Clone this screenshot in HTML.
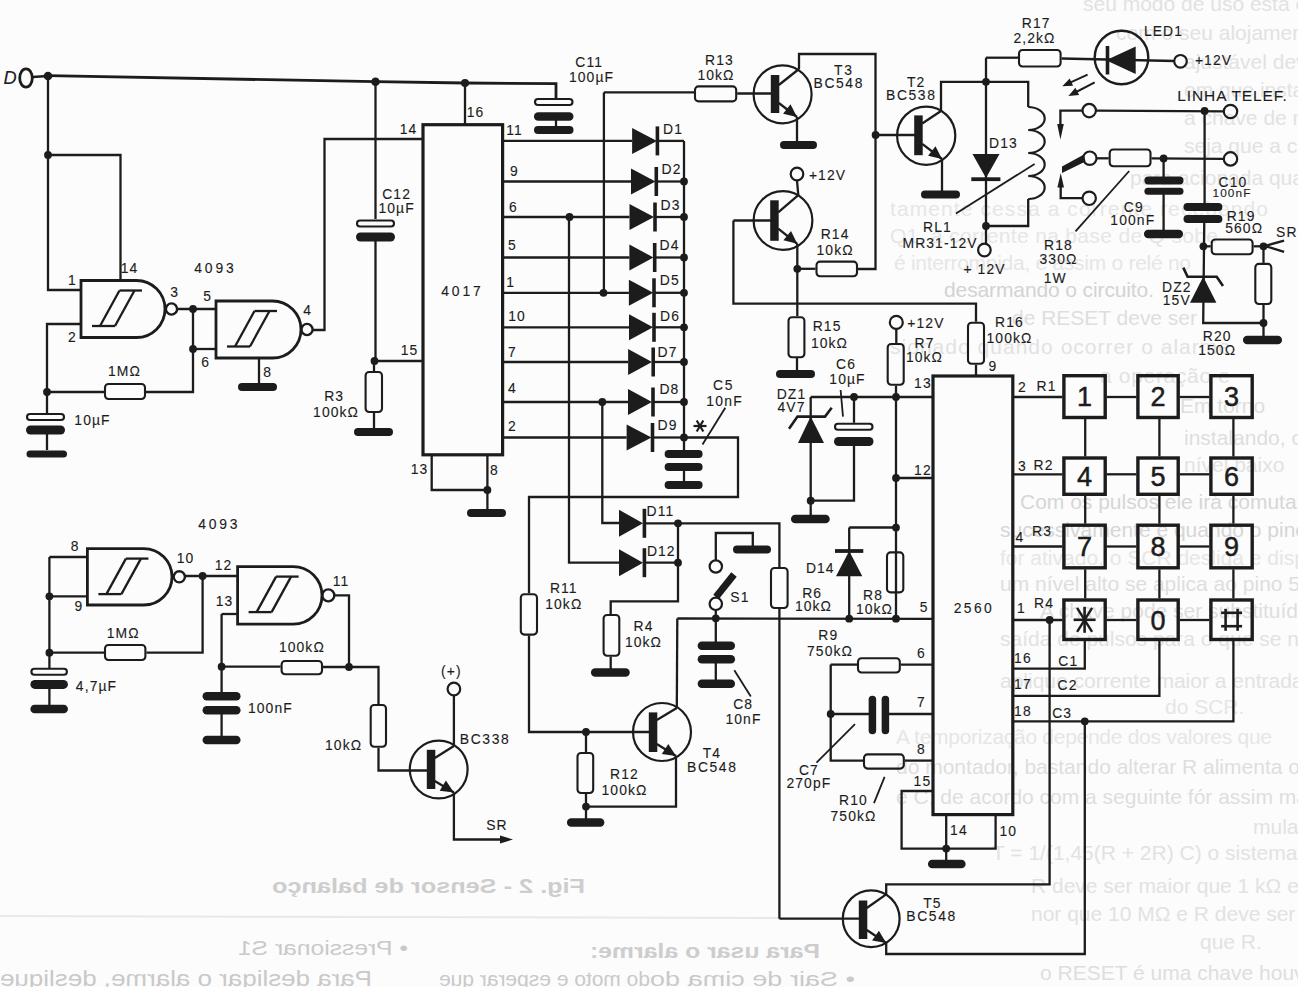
<!DOCTYPE html>
<html><head><meta charset="utf-8"><style>
html,body{margin:0;padding:0;background:#fcfcfc;width:1298px;height:987px;overflow:hidden}
svg{display:block}
path,line{fill:none;stroke:#1c1c1c;stroke-linejoin:miter}
.k{fill:#1c1c1c;stroke:none}
.o{fill:none;stroke:#1c1c1c}
text{font-family:"Liberation Sans",sans-serif;fill:#1c1c1c;stroke:#1c1c1c;stroke-width:0.12}
.d{stroke-width:0.5}
.g{fill:#c9c9c9;stroke:none}
.gm{fill:#cdcdcd;stroke:none;font-weight:bold}
</style></head><body>
<svg width="1298" height="987" viewBox="0 0 1298 987">
<text x="1083" y="11" font-size="21" class="g" style="fill:#e2e2e2">seu modo de uso está o LED</text>
<text x="1116" y="40" font-size="21" class="g" style="fill:#e2e2e2">com o seu alojamento o</text>
<text x="1184" y="69" font-size="21" class="g" style="fill:#e2e2e2">ajustável deve ser</text>
<text x="1184" y="97" font-size="21" class="g" style="fill:#e2e2e2">em que instalado</text>
<text x="1184" y="125" font-size="21" class="g" style="fill:#e2e2e2">a chave de modo</text>
<text x="1184" y="153" font-size="21" class="g" style="fill:#e2e2e2">seja que a chave</text>
<text x="1130" y="185" font-size="21" class="g" style="fill:#e2e2e2">para acionada quando a</text>
<text x="890" y="216" font-size="21" textLength="378" lengthAdjust="spacing" class="g" style="fill:#e6e6e6">tamente cessa a corrente recebendo</text>
<text x="890" y="243" font-size="21" textLength="328" lengthAdjust="spacing" class="g" style="fill:#e6e6e6">Q1, a corrente na base de Q sobe</text>
<text x="894" y="270" font-size="21" textLength="297" lengthAdjust="spacing" class="g" style="fill:#e6e6e6">é interrompida, e assim o relé no</text>
<text x="944" y="297" font-size="21" textLength="210" lengthAdjust="spacing" class="g" style="fill:#d3d3d3">desarmando o circuito.</text>
<text x="1012" y="325" font-size="21" textLength="185" lengthAdjust="spacing" class="g" style="fill:#dedede">de RESET deve ser</text>
<text x="890" y="354" font-size="21" textLength="340" lengthAdjust="spacing" class="g" style="fill:#e2e2e2">sionado quando ocorrer o alarme</text>
<text x="1100" y="383" font-size="21" textLength="130" lengthAdjust="spacing" class="g" style="fill:#e2e2e2">a operação e</text>
<text x="1180" y="413" font-size="21" class="g" style="fill:#dedede">Em torno</text>
<text x="1184" y="445" font-size="21" class="g" style="fill:#dedede">instalando, ou seja,</text>
<text x="1184" y="472" font-size="21" class="g" style="fill:#e2e2e2">nível baixo</text>
<text x="1020" y="509" font-size="21" class="g" style="fill:#d6d6d6">Com os pulsos ele irá comutando o</text>
<text x="1000" y="537" font-size="21" class="g" style="fill:#d6d6d6">sucessivamente e quando o pino 1</text>
<text x="1000" y="565" font-size="21" class="g" style="fill:#e6e6e6">for ativado, o SCR desliga e dispara</text>
<text x="1000" y="591" font-size="21" class="g" style="fill:#dedede">um nível alto se aplica ao pino 5 a</text>
<text x="1040" y="618" font-size="21" class="g" style="fill:#dedede">A chave pode ser substituída pela</text>
<text x="1000" y="646" font-size="21" class="g" style="fill:#e2e2e2">saída de pulsos para o que se na base</text>
<text x="1000" y="688" font-size="21" class="g" style="fill:#e2e2e2">aplique corrente maior a entrada do</text>
<text x="1165" y="714" font-size="21" class="g" style="fill:#e6e6e6">do SCR.</text>
<text x="896" y="744" font-size="21" textLength="376" lengthAdjust="spacing" class="g" style="fill:#e6e6e6">A temporização depende dos valores que</text>
<text x="896" y="774" font-size="21" class="g" style="fill:#dedede">do montador, bastando alterar R alimenta o relé e</text>
<text x="896" y="804" font-size="21" class="g" style="fill:#dedede">e C, de acordo com a seguinte fór assim mantém</text>
<text x="1253" y="834" font-size="21" class="g" style="fill:#e2e2e2">mula:</text>
<text x="992" y="860" font-size="21" class="g" style="fill:#e2e2e2">T = 1/(1,45(R + 2R) C) o sistema</text>
<text x="1031" y="893" font-size="21" class="g" style="fill:#e2e2e2">R deve ser maior que 1 kΩ e me</text>
<text x="1031" y="921" font-size="21" class="g" style="fill:#e2e2e2">nor que 10 MΩ e R deve ser menor</text>
<text x="1200" y="949" font-size="21" class="g" style="fill:#e2e2e2">que R.</text>
<text x="1040" y="980" font-size="21" class="g" style="fill:#dedede">o RESET é uma chave houver</text>
<text transform="translate(585,0) scale(-1,1)" x="0" y="893" font-size="20" textLength="313" lengthAdjust="spacingAndGlyphs" class="gm">Fig. 2 - Sensor de balanço</text>
<text transform="translate(820,0) scale(-1,1)" x="0" y="958" font-size="20" textLength="230" lengthAdjust="spacingAndGlyphs" class="gm">Para usar o alarme:</text>
<text transform="translate(408,0) scale(-1,1)" x="0" y="955" font-size="20" textLength="170" lengthAdjust="spacingAndGlyphs" class="g">• Pressionar S1</text>
<text transform="translate(372,0) scale(-1,1)" x="0" y="986" font-size="22" textLength="372" lengthAdjust="spacingAndGlyphs" class="g">Para desligar o alarme, desligue</text>
<text transform="translate(650,0) scale(-1,1)" x="0" y="986" font-size="20" textLength="211" lengthAdjust="spacingAndGlyphs" class="g">do moto e esperar que</text>
<text transform="translate(855,0) scale(-1,1)" x="0" y="986" font-size="20" textLength="205" lengthAdjust="spacingAndGlyphs" class="g">• Sair de cima do</text>
<path d="M0 916 L780 918" style="stroke:#e8e8e8;stroke-width:2"/>
<text x="10.2" y="83.6" font-size="18.2" text-anchor="middle" letter-spacing="0.3" class="t" font-style="italic">D</text>
<ellipse cx="26" cy="78" rx="6.3" ry="9.2" class="o" stroke-width="2.8"/>
<path d="M32.5 77 L48 76" stroke-width="2.3"/>
<path d="M48 75.7 L375.5 81.7 L465 83 L556 83.7 L556 98" stroke-width="2.8"/>
<circle cx="48" cy="76" r="4.3" class="k"/>
<circle cx="375.5" cy="81.7" r="4.3" class="k"/>
<circle cx="465" cy="83" r="4" class="k"/>
<path d="M48 76 L48 290 L81 290" stroke-width="2.3"/>
<circle cx="48" cy="155" r="3.9" class="k"/>
<path d="M48 155 L120.5 155 L120.5 281" stroke-width="2.3"/>
<path d="M81 324 L47 324 L47 413" stroke-width="2.3"/>
<path d="M47 434 L47 450" stroke-width="2.3"/>
<circle cx="47" cy="392" r="3.9" class="k"/>
<rect x="27" y="414" width="37" height="6" rx="3" class="o" stroke-width="2.1"/>
<path d="M30.5 430 L60.5 430" stroke-width="9" stroke-linecap="round"/>
<path d="M30 454 L63.5 454" stroke-width="7" stroke-linecap="round"/>
<path d="M81 280.5 L136.5 280.5 A28.5 28.5 0 0 1 136.5 337.5 L81 337.5 Z" class="o" stroke-width="2.8"/>
<circle cx="171.5" cy="309" r="5.6" class="o" stroke-width="2.4"/>
<path d="M92 326 L115 326" stroke-width="2.3"/>
<path d="M100 326 L119.5 290.5" stroke-width="2.3"/>
<path d="M115 326 L134.5 290.5" stroke-width="2.3"/>
<path d="M119.5 290.5 L142 290.5" stroke-width="2.3"/>
<path d="M216 301 L272.5 301 A28.5 28.5 0 0 1 272.5 358 L216 358 Z" class="o" stroke-width="2.8"/>
<circle cx="307" cy="329.5" r="5.6" class="o" stroke-width="2.4"/>
<path d="M227 346.5 L250 346.5" stroke-width="2.3"/>
<path d="M235 346.5 L254.5 311" stroke-width="2.3"/>
<path d="M250 346.5 L269.5 311" stroke-width="2.3"/>
<path d="M254.5 311 L277 311" stroke-width="2.3"/>
<path d="M177 309 L216 309" stroke-width="2.3"/>
<circle cx="193" cy="309" r="3.9" class="k"/>
<circle cx="193" cy="349" r="3.9" class="k"/>
<path d="M193 309 L193 392 L146 392" stroke-width="2.3"/>
<path d="M193 349 L216 349" stroke-width="2.3"/>
<path d="M47 392 L104 392" stroke-width="2.3"/>
<rect x="105" y="384" width="40" height="15" rx="3.5" class="o" stroke-width="2.1"/>
<path d="M259 358 L259 387" stroke-width="2.3"/>
<path d="M242 387 L273 387" stroke-width="8" stroke-linecap="round"/>
<path d="M313 330 L324.5 330 L324.5 139 L423 139" stroke-width="2.3"/>
<text x="72.5" y="285.1" font-size="13.9" text-anchor="middle" letter-spacing="1.1" class="t">1</text>
<text x="129.6" y="273.1" font-size="13.9" text-anchor="middle" letter-spacing="1.1" class="t">14</text>
<text x="174.6" y="297.1" font-size="13.9" text-anchor="middle" letter-spacing="1.1" class="t">3</text>
<text x="72.5" y="342.1" font-size="13.9" text-anchor="middle" letter-spacing="1.1" class="t">2</text>
<text x="207.6" y="301.1" font-size="13.9" text-anchor="middle" letter-spacing="1.1" class="t">5</text>
<text x="205.6" y="367.1" font-size="13.9" text-anchor="middle" letter-spacing="1.1" class="t">6</text>
<text x="307.6" y="315.1" font-size="13.9" text-anchor="middle" letter-spacing="1.1" class="t">4</text>
<text x="267.6" y="377.1" font-size="13.9" text-anchor="middle" letter-spacing="1.1" class="t">8</text>
<text x="124.5" y="376.1" font-size="13.9" text-anchor="middle" letter-spacing="1.1" class="t">1MΩ</text>
<text x="92.5" y="425.1" font-size="13.9" text-anchor="middle" letter-spacing="1.1" class="t">10µF</text>
<text x="215.4" y="273.1" font-size="13.9" text-anchor="middle" letter-spacing="2.8" class="t">4093</text>
<rect x="423" y="124.7" width="79.6" height="330.1" class="o" stroke-width="3.2"/>
<path d="M465 83 L465 124.7" stroke-width="2.3"/>
<path d="M375.5 81.7 L375.5 219" stroke-width="2.3"/>
<rect x="357" y="220.5" width="37" height="6" rx="3" class="o" stroke-width="2.1"/>
<path d="M360.5 237 L390.5 237" stroke-width="9" stroke-linecap="round"/>
<path d="M375.5 241 L375.5 361 L423 361" stroke-width="2.3"/>
<circle cx="374.5" cy="361" r="3.9" class="k"/>
<path d="M374 361 L374 371" stroke-width="2.3"/>
<rect x="365.6" y="372" width="16.4" height="40" rx="3.5" class="o" stroke-width="2.1"/>
<path d="M374 413 L374 432" stroke-width="2.3"/>
<path d="M358 432 L389 432" stroke-width="8" stroke-linecap="round"/>
<path d="M431.7 454.8 L431.7 490 L487.4 490" stroke-width="2.3"/>
<path d="M487.4 454.8 L487.4 513" stroke-width="2.3"/>
<circle cx="487.4" cy="490" r="3.9" class="k"/>
<path d="M471 513 L502 513" stroke-width="8" stroke-linecap="round"/>
<rect x="535" y="99" width="37.5" height="6" rx="3" class="o" stroke-width="2.1"/>
<path d="M538.2 116.6 L569.2 116.6" stroke-width="8.5" stroke-linecap="round"/>
<path d="M538 130 L569.5 130" stroke-width="8" stroke-linecap="round"/>
<path d="M556 116.6 L556 130" stroke-width="2.3"/>
<text x="589.2" y="66.5" font-size="13.9" text-anchor="middle" letter-spacing="1.1" class="t">C11</text>
<text x="591.5" y="82.1" font-size="13.9" text-anchor="middle" letter-spacing="1.1" class="t">100µF</text>
<text x="475.6" y="117.1" font-size="13.9" text-anchor="middle" letter-spacing="1.1" class="t">16</text>
<text x="408.6" y="133.6" font-size="13.9" text-anchor="middle" letter-spacing="1.1" class="t">14</text>
<text x="514.5" y="135.1" font-size="13.9" text-anchor="middle" letter-spacing="1.1" class="t">11</text>
<text x="514.5" y="176.1" font-size="13.9" text-anchor="middle" letter-spacing="1.1" class="t">9</text>
<text x="513.5" y="212.1" font-size="13.9" text-anchor="middle" letter-spacing="1.1" class="t">6</text>
<text x="512.5" y="250.1" font-size="13.9" text-anchor="middle" letter-spacing="1.1" class="t">5</text>
<text x="510.6" y="287.1" font-size="13.9" text-anchor="middle" letter-spacing="1.1" class="t">1</text>
<text x="396.6" y="199.1" font-size="13.9" text-anchor="middle" letter-spacing="1.1" class="t">C12</text>
<text x="396.6" y="213.1" font-size="13.9" text-anchor="middle" letter-spacing="1.1" class="t">10µF</text>
<text x="517" y="321.1" font-size="13.9" text-anchor="middle" letter-spacing="1.1" class="t">10</text>
<text x="512.5" y="356.5" font-size="13.9" text-anchor="middle" letter-spacing="1.1" class="t">7</text>
<text x="512.5" y="393.1" font-size="13.9" text-anchor="middle" letter-spacing="1.1" class="t">4</text>
<text x="512.5" y="430.7" font-size="13.9" text-anchor="middle" letter-spacing="1.1" class="t">2</text>
<text x="409.6" y="354.7" font-size="13.9" text-anchor="middle" letter-spacing="1.1" class="t">15</text>
<text x="334.2" y="401.1" font-size="13.9" text-anchor="middle" letter-spacing="1.1" class="t">R3</text>
<text x="336.1" y="416.8" font-size="13.9" text-anchor="middle" letter-spacing="1.1" class="t">100kΩ</text>
<text x="419.6" y="473.8" font-size="13.9" text-anchor="middle" letter-spacing="1.1" class="t">13</text>
<text x="494.4" y="475.1" font-size="13.9" text-anchor="middle" letter-spacing="1.1" class="t">8</text>
<text x="462.4" y="296.1" font-size="13.9" text-anchor="middle" letter-spacing="2.8" class="t">4017</text>
<path d="M502.6 140.9 L632.1 140.9" stroke-width="2.3"/>
<polygon points="632.1,127.9 632.1,153.9 657,140.9" class="k"/>
<path d="M657.4 126.4 L657.4 155.4" stroke-width="3.6"/>
<path d="M657.4 140.9 L684 140.9" stroke-width="2.3"/>
<path d="M502.6 181.5 L631 181.5" stroke-width="2.3"/>
<polygon points="631,168.5 631,194.5 655.5,181.5" class="k"/>
<path d="M656.3 167 L656.3 196" stroke-width="3.6"/>
<path d="M656.3 181.5 L684 181.5" stroke-width="2.3"/>
<circle cx="684" cy="181.5" r="3.9" class="k"/>
<path d="M502.6 217 L629.5 217" stroke-width="2.3"/>
<polygon points="629.5,204 629.5,230 654,217" class="k"/>
<path d="M655 202.5 L655 231.5" stroke-width="3.6"/>
<path d="M655 217 L684 217" stroke-width="2.3"/>
<circle cx="684" cy="217" r="3.9" class="k"/>
<path d="M502.6 257.5 L629.4 257.5" stroke-width="2.3"/>
<polygon points="629.4,244.5 629.4,270.5 653.5,257.5" class="k"/>
<path d="M654.7 243 L654.7 272" stroke-width="3.6"/>
<path d="M654.7 257.5 L684 257.5" stroke-width="2.3"/>
<circle cx="684" cy="257.5" r="3.9" class="k"/>
<path d="M502.6 292.8 L628.9 292.8" stroke-width="2.3"/>
<polygon points="628.9,279.8 628.9,305.8 653.2,292.8" class="k"/>
<path d="M654 278.3 L654 307.3" stroke-width="3.6"/>
<path d="M654 292.8 L684 292.8" stroke-width="2.3"/>
<circle cx="684" cy="292.8" r="3.9" class="k"/>
<path d="M502.6 327.3 L629 327.3" stroke-width="2.3"/>
<polygon points="629,314.3 629,340.3 653,327.3" class="k"/>
<path d="M654 312.8 L654 341.8" stroke-width="3.6"/>
<path d="M654 327.3 L684 327.3" stroke-width="2.3"/>
<circle cx="684" cy="327.3" r="3.9" class="k"/>
<path d="M502.6 362 L628.1 362" stroke-width="2.3"/>
<polygon points="628.1,349 628.1,375 652,362" class="k"/>
<path d="M653.2 347.5 L653.2 376.5" stroke-width="3.6"/>
<path d="M653.2 362 L684 362" stroke-width="2.3"/>
<circle cx="684" cy="362" r="3.9" class="k"/>
<path d="M502.6 402 L628 402" stroke-width="2.3"/>
<polygon points="628,389 628,415 652,402" class="k"/>
<path d="M653 387.5 L653 416.5" stroke-width="3.6"/>
<path d="M653 402 L684 402" stroke-width="2.3"/>
<circle cx="684" cy="402" r="3.9" class="k"/>
<path d="M502.6 437.5 L626.6 437.5" stroke-width="2.3"/>
<polygon points="626.6,424.5 626.6,450.5 651.5,437.5" class="k"/>
<path d="M652.5 423 L652.5 452" stroke-width="3.6"/>
<path d="M652.5 437.5 L684 437.5" stroke-width="2.3"/>
<circle cx="684" cy="437.5" r="3.9" class="k"/>
<path d="M684 140.9 L684 450" stroke-width="2.3"/>
<circle cx="569.5" cy="217" r="3.9" class="k"/>
<circle cx="603.5" cy="292.8" r="3.9" class="k"/>
<circle cx="602.3" cy="402" r="3.9" class="k"/>
<path d="M603.9 92.4 L603.9 292.8" stroke-width="2.3"/>
<path d="M569 217 L569 562.7 L619 562.7" stroke-width="2.3"/>
<path d="M602.3 402 L602.3 523 L619 523" stroke-width="2.3"/>
<text x="673" y="134.1" font-size="13.9" text-anchor="middle" letter-spacing="1.1" class="t">D1</text>
<text x="671.5" y="174.1" font-size="13.9" text-anchor="middle" letter-spacing="1.1" class="t">D2</text>
<text x="670.5" y="210.1" font-size="13.9" text-anchor="middle" letter-spacing="1.1" class="t">D3</text>
<text x="669.5" y="250.1" font-size="13.9" text-anchor="middle" letter-spacing="1.1" class="t">D4</text>
<text x="669.8" y="285.1" font-size="13.9" text-anchor="middle" letter-spacing="1.1" class="t">D5</text>
<text x="670" y="320.6" font-size="13.9" text-anchor="middle" letter-spacing="1.1" class="t">D6</text>
<text x="667.5" y="357.1" font-size="13.9" text-anchor="middle" letter-spacing="1.1" class="t">D7</text>
<text x="669.4" y="394.4" font-size="13.9" text-anchor="middle" letter-spacing="1.1" class="t">D8</text>
<text x="667.5" y="430.1" font-size="13.9" text-anchor="middle" letter-spacing="1.1" class="t">D9</text>
<path d="M668.6 454 L698.6 454" stroke-width="8" stroke-linecap="round"/>
<path d="M668.6 467 L698.6 467" stroke-width="8" stroke-linecap="round"/>
<path d="M684 467 L684 485" stroke-width="2.3"/>
<path d="M668.6 485 L698.6 485" stroke-width="8" stroke-linecap="round"/>
<path d="M684 437.5 L738 437.5 L738 497 L529 497 L529 593.3" stroke-width="2.3"/>
<path d="M725.3 407.8 L702.5 444.5" stroke-width="1.8"/>
<path d="M693.5 426 L706.5 426" stroke-width="2.2"/>
<path d="M696.7 420.5 L703.3 431.5" stroke-width="2.2"/>
<path d="M703.3 420.5 L696.7 431.5" stroke-width="2.2"/>
<text x="723.7" y="390.1" font-size="13.9" text-anchor="middle" letter-spacing="1.8" class="t">C5</text>
<text x="724.6" y="406.1" font-size="13.9" text-anchor="middle" letter-spacing="1.3" class="t">10nF</text>
<path d="M603.9 92.4 L694 92.4" stroke-width="2.3"/>
<rect x="695" y="86.4" width="41.2" height="15" rx="3.5" class="o" stroke-width="2.1"/>
<path d="M737.2 93.5 L771 93.5" stroke-width="2.3"/>
<circle cx="782.6" cy="94.3" r="29" class="o" stroke-width="2.2"/>
<rect x="770.8" y="75" width="8.5" height="38" class="k"/>
<path d="M778.8 85 L799 69" stroke-width="2.3"/>
<path d="M778.8 103 L797 117" stroke-width="2.3"/>
<polygon points="797,117 783.1,113.7 790.5,104.2" class="k"/>
<path d="M799 69 L799 54 L875.5 54 L875.5 269 L858 269" stroke-width="2.3"/>
<path d="M797 117 L797 145" stroke-width="2.3"/>
<path d="M784 145 L813 145" stroke-width="8" stroke-linecap="round"/>
<circle cx="783" cy="220.5" r="29.4" class="o" stroke-width="2.2"/>
<rect x="770.2" y="200.3" width="8.5" height="40.5" class="k"/>
<path d="M778.2 212.4 L798.3 195.2" stroke-width="2.3"/>
<path d="M778.2 228.6 L797.3 243.8" stroke-width="2.3"/>
<polygon points="797.3,243.8 783.4,240.2 791,230.9" class="k"/>
<path d="M733.4 220.5 L771 220.5" stroke-width="2.3"/>
<path d="M733.4 220.5 L733.4 303.6 L976 303.6 L976 321.7" stroke-width="2.3"/>
<path d="M798.3 195.2 L797 180.5" stroke-width="2.3"/>
<circle cx="797" cy="174" r="6.3" class="o" stroke-width="2.2"/>
<path d="M797.3 243.8 L797.3 316.2" stroke-width="2.3"/>
<circle cx="797.3" cy="268.8" r="3.9" class="k"/>
<path d="M797.3 268.8 L815.5 268.8" stroke-width="2.3"/>
<rect x="816.5" y="261.6" width="40.5" height="14.7" rx="3.5" class="o" stroke-width="2.1"/>
<rect x="788.5" y="317.2" width="15.9" height="40.1" rx="3.5" class="o" stroke-width="2.1"/>
<path d="M797 358 L797 374" stroke-width="2.3"/>
<path d="M780 374 L811 374" stroke-width="8" stroke-linecap="round"/>
<text x="719.5" y="65.1" font-size="13.9" text-anchor="middle" letter-spacing="1.1" class="t">R13</text>
<text x="716" y="80.1" font-size="13.9" text-anchor="middle" letter-spacing="1.1" class="t">10kΩ</text>
<text x="843.9" y="75.1" font-size="13.9" text-anchor="middle" letter-spacing="1.8" class="t">T3</text>
<text x="838.8" y="87.5" font-size="13.9" text-anchor="middle" letter-spacing="1.6" class="t">BC548</text>
<text x="827.5" y="180.1" font-size="13.9" text-anchor="middle" letter-spacing="1.1" class="t">+12V</text>
<text x="835.1" y="238.7" font-size="13.9" text-anchor="middle" letter-spacing="1.1" class="t">R14</text>
<text x="835.1" y="255.1" font-size="13.9" text-anchor="middle" letter-spacing="1.1" class="t">10kΩ</text>
<text x="827.1" y="330.6" font-size="13.9" text-anchor="middle" letter-spacing="1.1" class="t">R15</text>
<text x="829.5" y="347.8" font-size="13.9" text-anchor="middle" letter-spacing="1.1" class="t">10kΩ</text>
<circle cx="875.6" cy="135" r="3.9" class="k"/>
<path d="M875.6 135 L915 135" stroke-width="2.3"/>
<circle cx="926.2" cy="135.7" r="29.1" class="o" stroke-width="2.2"/>
<rect x="914.2" y="115.4" width="8.5" height="39.8" class="k"/>
<path d="M922.2 123.5 L941 111" stroke-width="2.3"/>
<path d="M922.2 143.8 L942 159" stroke-width="2.3"/>
<polygon points="942,159 928.1,155.7 935.5,146.2" class="k"/>
<path d="M941 111 L941 81.8 L986 81.8" stroke-width="2.3"/>
<path d="M942 159 L942 194.4" stroke-width="2.3"/>
<path d="M925 194.4 L956 194.4" stroke-width="8" stroke-linecap="round"/>
<path d="M986 57.7 L986 243.7" stroke-width="2.3"/>
<circle cx="986" cy="81.8" r="3.9" class="k"/>
<circle cx="986" cy="226" r="3.9" class="k"/>
<path d="M986 57.7 L1018 57.7" stroke-width="2.3"/>
<rect x="1019" y="50" width="41.6" height="16.5" rx="3.5" class="o" stroke-width="2.1"/>
<path d="M1061.6 58.5 L1174.5 61" stroke-width="2.3"/>
<circle cx="1121.5" cy="57.5" r="26.8" class="o" stroke-width="2.4"/>
<polygon points="1106,60.3 1135.7,46.5 1135.7,74" class="k"/>
<path d="M1107.5 46 L1107.5 74.5" stroke-width="3.6"/>
<circle cx="1180.5" cy="61.3" r="6.3" class="o" stroke-width="2.2"/>
<path d="M986 81.8 L1028.2 81.8 L1028.2 107" stroke-width="2.3"/>
<path d="M1028.2 107 a16.5 11.5 0 0 1 0 23 a16.5 11.5 0 0 1 0 23 a16.5 11.5 0 0 1 0 23 a16.5 11.5 0 0 1 0 23" stroke-width="2.2"/>
<path d="M1028.2 199 L1028.2 226 L986 226" stroke-width="2.3"/>
<polygon points="972.5,154 999.5,154 986,178" class="k"/>
<path d="M971.3 179.2 L1000.4 179.2" stroke-width="3.8"/>
<path d="M956 213.4 L1034.6 164" stroke-width="1.8"/>
<circle cx="984.4" cy="250" r="6.3" class="o" stroke-width="2.2"/>
<path d="M1087.6 74.6 L1066.3 84.3" stroke-width="2"/>
<polygon points="1062.3,86.3 1069.7,78.5 1073.1,85.7" class="k"/>
<path d="M1094.7 82.3 L1072.4 94" stroke-width="2"/>
<polygon points="1068.4,96 1075.4,87.8 1079.1,94.9" class="k"/>
<circle cx="1089.2" cy="110.6" r="6.7" class="o" stroke-width="2.2"/>
<path d="M1082.5 110.6 L1060.4 110.6 L1060.4 126" stroke-width="2.3"/>
<polygon points="1057.2,124 1063.8,124 1060.4,139.4" class="k"/>
<path d="M1095.9 110.6 L1223.8 111.3" stroke-width="2.3"/>
<circle cx="1204.6" cy="110.9" r="3.9" class="k"/>
<circle cx="1230.5" cy="111.5" r="6.7" class="o" stroke-width="2.2"/>
<circle cx="1089.8" cy="158.2" r="6.7" class="o" stroke-width="2.2"/>
<polygon points="1062,166.5 1084,154.5 1085.5,161.5 1062,173" class="k"/>
<polygon points="1060.7,173 1057.4,187.4 1064,187.4" class="k"/>
<path d="M1060.7 187 L1060.7 198.2 L1082.5 198.2" stroke-width="2.3"/>
<circle cx="1089.2" cy="198.3" r="6.7" class="o" stroke-width="2.2"/>
<path d="M1096.5 158.3 L1108.7 158.3" stroke-width="2.3"/>
<rect x="1109.7" y="149.5" width="40.8" height="16.8" rx="3.5" class="o" stroke-width="2.1"/>
<path d="M1151.5 158.3 L1223.8 158.9" stroke-width="2.3"/>
<circle cx="1163.6" cy="158.4" r="3.9" class="k"/>
<circle cx="1230.5" cy="158.9" r="6.7" class="o" stroke-width="2.2"/>
<path d="M1075.5 231.3 L1129.2 171" stroke-width="1.8"/>
<path d="M1163.6 158.3 L1163.6 177" stroke-width="2.3"/>
<path d="M1163.6 191.3 L1163.6 233.9" stroke-width="2.3"/>
<path d="M1148.4 180.6 L1179.5 180.6" stroke-width="8" stroke-linecap="round"/>
<path d="M1147.9 191.3 L1180 191.3" stroke-width="7" stroke-linecap="round"/>
<path d="M1148.2 233.9 L1178.8 233.9" stroke-width="8.5" stroke-linecap="round"/>
<path d="M1204.6 110.9 L1204.6 207" stroke-width="2.3"/>
<path d="M1187.5 207 L1218.4 207" stroke-width="8" stroke-linecap="round"/>
<path d="M1187.5 219.1 L1218.4 219.1" stroke-width="8" stroke-linecap="round"/>
<path d="M1204.3 219 L1203.2 323 L1263.5 323" stroke-width="2.3"/>
<circle cx="1203.4" cy="246.3" r="3.9" class="k"/>
<path d="M1203.2 246.3 L1210.7 246.3" stroke-width="2.3"/>
<rect x="1211.7" y="239.5" width="40.9" height="14.8" rx="3.5" class="o" stroke-width="2.1"/>
<path d="M1253.6 246.3 L1263.5 246.3" stroke-width="2.3"/>
<circle cx="1263.5" cy="246.3" r="3.9" class="k"/>
<path d="M1263.5 246.3 L1284.1 240.6" stroke-width="2.3"/>
<path d="M1266 246.3 L1284.1 251.8" stroke-width="2.3"/>
<path d="M1263.5 246.3 L1263.5 262.9" stroke-width="2.3"/>
<rect x="1255.3" y="263.9" width="16" height="40.1" rx="3.5" class="o" stroke-width="2.1"/>
<path d="M1263.5 305 L1263.5 340" stroke-width="2.3"/>
<circle cx="1263.5" cy="323" r="3.9" class="k"/>
<path d="M1247.2 340 L1277.8 340" stroke-width="8.5" stroke-linecap="round"/>
<path d="M1183.3 267.6 L1187.6 276.8 L1216.7 276.8 L1223 286" stroke-width="2.6"/>
<polygon points="1203.2,276.8 1190,302.7 1216.4,302.7" class="k"/>
<text x="916.1" y="86.9" font-size="13.9" text-anchor="middle" letter-spacing="1.1" class="t">T2</text>
<text x="911.3" y="99.5" font-size="13.9" text-anchor="middle" letter-spacing="1.6" class="t">BC538</text>
<text x="1003.5" y="147.6" font-size="13.9" text-anchor="middle" letter-spacing="1.1" class="t">D13</text>
<text x="937.5" y="232.4" font-size="13.9" text-anchor="middle" letter-spacing="1.1" class="t">RL1</text>
<text x="940.1" y="247.6" font-size="13.9" text-anchor="middle" letter-spacing="1.1" class="t">MR31-12V</text>
<text x="984.5" y="274.2" font-size="13.9" text-anchor="middle" letter-spacing="1.1" class="t">+ 12V</text>
<text x="1036.2" y="27.5" font-size="13.9" text-anchor="middle" letter-spacing="1.1" class="t">R17</text>
<text x="1034.5" y="43" font-size="13.9" text-anchor="middle" letter-spacing="1.1" class="t">2,2kΩ</text>
<text x="1163.5" y="36.1" font-size="13.9" text-anchor="middle" letter-spacing="1.1" class="t">LED1</text>
<text x="1213.5" y="65.4" font-size="13.9" text-anchor="middle" letter-spacing="1.1" class="t">+12V</text>
<text x="1058.5" y="249.8" font-size="13.9" text-anchor="middle" letter-spacing="1.1" class="t">R18</text>
<text x="1058.5" y="263.5" font-size="13.9" text-anchor="middle" letter-spacing="1.1" class="t">330Ω</text>
<text x="1055.2" y="282.5" font-size="13.9" text-anchor="middle" letter-spacing="1.1" class="t">1W</text>
<text x="1133.8" y="212.1" font-size="13.9" text-anchor="middle" letter-spacing="1.1" class="t">C9</text>
<text x="1132.8" y="225.2" font-size="13.9" text-anchor="middle" letter-spacing="1.1" class="t">100nF</text>
<text x="1233" y="186.7" font-size="13.9" text-anchor="middle" letter-spacing="1.1" class="t">C10</text>
<text x="1232" y="197.1" font-size="11.8" text-anchor="middle" letter-spacing="1.1" class="t">100nF</text>
<text x="1241.1" y="220.8" font-size="13.9" text-anchor="middle" letter-spacing="1.1" class="t">R19</text>
<text x="1244.2" y="233.3" font-size="13.9" text-anchor="middle" letter-spacing="1.1" class="t">560Ω</text>
<text x="1286.8" y="237.4" font-size="13.9" text-anchor="middle" letter-spacing="1.1" class="t">SR</text>
<text x="1176.8" y="291.9" font-size="13.9" text-anchor="middle" letter-spacing="1.1" class="t">DZ2</text>
<text x="1176.8" y="305.3" font-size="13.9" text-anchor="middle" letter-spacing="1.1" class="t">15V</text>
<text x="1217.2" y="340.8" font-size="13.9" text-anchor="middle" letter-spacing="1.1" class="t">R20</text>
<text x="1217.2" y="355.1" font-size="13.9" text-anchor="middle" letter-spacing="1.1" class="t">150Ω</text>
<text x="1232.5" y="100.6" font-size="15.5" text-anchor="middle" letter-spacing="0.9" class="t">LINHA TELEF.</text>
<rect x="933" y="376" width="79.8" height="438.6" class="o" stroke-width="3.2"/>
<path d="M976 364.7 L976 376" stroke-width="2.3"/>
<rect x="968" y="322.7" width="16" height="41" rx="3.5" class="o" stroke-width="2.1"/>
<circle cx="896.3" cy="322.4" r="6.5" class="o" stroke-width="2.2"/>
<path d="M896.3 329 L896.3 343" stroke-width="2.3"/>
<rect x="887.7" y="344" width="16" height="40.7" rx="3.5" class="o" stroke-width="2.1"/>
<path d="M896 385.7 L896 618.7" stroke-width="2.3"/>
<circle cx="896" cy="397" r="3.9" class="k"/>
<circle cx="896" cy="478" r="3.9" class="k"/>
<circle cx="896" cy="527.6" r="3.9" class="k"/>
<circle cx="896" cy="618.7" r="3.9" class="k"/>
<path d="M810.7 397 L933 397" stroke-width="2.3"/>
<circle cx="854" cy="397" r="3.9" class="k"/>
<path d="M810.7 397 L810.7 420" stroke-width="2.3"/>
<path d="M789 428.8 L797.5 416.6 L825 416.6 L831.7 407.8" stroke-width="2.6"/>
<polygon points="810.7,416.6 798,443 824,443" class="k"/>
<path d="M810.7 443 L810.7 519" stroke-width="2.3"/>
<circle cx="810.7" cy="500.7" r="3.9" class="k"/>
<path d="M795.2 519 L825.5 519" stroke-width="8.5" stroke-linecap="round"/>
<path d="M854 397 L854 422.8" stroke-width="2.3"/>
<rect x="835" y="423.8" width="37.5" height="6" rx="3" class="o" stroke-width="2.1"/>
<path d="M838.5 441.5 L869 441.5" stroke-width="9" stroke-linecap="round"/>
<path d="M854 441.5 L854 500.7 L810.7 500.7" stroke-width="2.3"/>
<path d="M840.6 390 L843 416.6" stroke-width="1.8"/>
<path d="M896 478 L933 478" stroke-width="2.3"/>
<path d="M849.2 527.5 L896 527.5" stroke-width="2.3"/>
<path d="M849.2 527.5 L849.2 618.7" stroke-width="2.3"/>
<path d="M835 551 L863.3 551" stroke-width="3.8"/>
<polygon points="849.2,551 836,576.2 862.3,576.2" class="k"/>
<circle cx="849.2" cy="618.7" r="3.9" class="k"/>
<rect x="887" y="552.4" width="16.3" height="40" rx="3.5" class="o" stroke-width="2.1"/>
<path d="M677.3 618.5 L933 618.8" stroke-width="2.3"/>
<text x="925.9" y="327.5" font-size="13.9" text-anchor="middle" letter-spacing="1.1" class="t">+12V</text>
<text x="924.5" y="348.1" font-size="13.9" text-anchor="middle" letter-spacing="1.1" class="t">R7</text>
<text x="924.5" y="362.1" font-size="13.9" text-anchor="middle" letter-spacing="1.1" class="t">10kΩ</text>
<text x="1009.5" y="326.8" font-size="13.9" text-anchor="middle" letter-spacing="1.1" class="t">R16</text>
<text x="1009.5" y="343.1" font-size="13.9" text-anchor="middle" letter-spacing="1.1" class="t">100kΩ</text>
<text x="993" y="370.6" font-size="13.9" text-anchor="middle" letter-spacing="1.1" class="t">9</text>
<text x="922.9" y="387.5" font-size="13.9" text-anchor="middle" letter-spacing="1.1" class="t">13</text>
<text x="922.9" y="474.9" font-size="13.9" text-anchor="middle" letter-spacing="1.1" class="t">12</text>
<text x="846.1" y="368.6" font-size="13.9" text-anchor="middle" letter-spacing="1.1" class="t">C6</text>
<text x="847.5" y="383.8" font-size="13.9" text-anchor="middle" letter-spacing="1.1" class="t">10µF</text>
<text x="791.5" y="398.9" font-size="13.9" text-anchor="middle" letter-spacing="1.1" class="t">DZ1</text>
<text x="791.5" y="412.1" font-size="13.9" text-anchor="middle" letter-spacing="1.1" class="t">4V7</text>
<text x="1022.4" y="392" font-size="13.9" text-anchor="middle" letter-spacing="1.1" class="t">2</text>
<text x="1046.5" y="391.1" font-size="13.9" text-anchor="middle" letter-spacing="1.1" class="t">R1</text>
<text x="1022.5" y="471.3" font-size="13.9" text-anchor="middle" letter-spacing="1.1" class="t">3</text>
<text x="1043.5" y="469.7" font-size="13.9" text-anchor="middle" letter-spacing="1.1" class="t">R2</text>
<text x="1019.8" y="541.5" font-size="13.9" text-anchor="middle" letter-spacing="1.1" class="t">4</text>
<text x="1042" y="536.4" font-size="13.9" text-anchor="middle" letter-spacing="1.1" class="t">R3</text>
<text x="820.3" y="573.1" font-size="13.9" text-anchor="middle" letter-spacing="1.1" class="t">D14</text>
<text x="812.2" y="598.1" font-size="13.9" text-anchor="middle" letter-spacing="1.1" class="t">R6</text>
<text x="813.5" y="611.1" font-size="13.9" text-anchor="middle" letter-spacing="1.1" class="t">10kΩ</text>
<text x="873" y="600.1" font-size="13.9" text-anchor="middle" letter-spacing="1.1" class="t">R8</text>
<text x="874.5" y="614.3" font-size="13.9" text-anchor="middle" letter-spacing="1.1" class="t">10kΩ</text>
<text x="924.2" y="612.3" font-size="13.9" text-anchor="middle" letter-spacing="1.1" class="t">5</text>
<text x="1021.5" y="612.9" font-size="13.9" text-anchor="middle" letter-spacing="1.1" class="t">1</text>
<text x="1044" y="607.7" font-size="13.9" text-anchor="middle" letter-spacing="1.1" class="t">R4</text>
<text x="828.3" y="640.1" font-size="13.9" text-anchor="middle" letter-spacing="1.1" class="t">R9</text>
<text x="830" y="656.3" font-size="13.9" text-anchor="middle" letter-spacing="1.1" class="t">750kΩ</text>
<text x="921.5" y="658.3" font-size="13.9" text-anchor="middle" letter-spacing="1.1" class="t">6</text>
<text x="921.5" y="707" font-size="13.9" text-anchor="middle" letter-spacing="1.1" class="t">7</text>
<text x="921.5" y="753.6" font-size="13.9" text-anchor="middle" letter-spacing="1.1" class="t">8</text>
<text x="922.4" y="786.1" font-size="13.9" text-anchor="middle" letter-spacing="1.1" class="t">15</text>
<text x="1022.9" y="663.1" font-size="13.9" text-anchor="middle" letter-spacing="1.1" class="t">16</text>
<text x="1068.3" y="665.6" font-size="13.9" text-anchor="middle" letter-spacing="1.1" class="t">C1</text>
<text x="1022.9" y="688.7" font-size="13.9" text-anchor="middle" letter-spacing="1.1" class="t">17</text>
<text x="1067.5" y="689.9" font-size="13.9" text-anchor="middle" letter-spacing="1.1" class="t">C2</text>
<text x="1022.9" y="715.9" font-size="13.9" text-anchor="middle" letter-spacing="1.1" class="t">18</text>
<text x="1062.2" y="718.3" font-size="13.9" text-anchor="middle" letter-spacing="1.1" class="t">C3</text>
<text x="958.9" y="834.7" font-size="13.9" text-anchor="middle" letter-spacing="1.1" class="t">14</text>
<text x="1008.3" y="835.9" font-size="13.9" text-anchor="middle" letter-spacing="1.1" class="t">10</text>
<text x="808.9" y="775.1" font-size="13.9" text-anchor="middle" letter-spacing="1.1" class="t">C7</text>
<text x="808.9" y="788.1" font-size="13.9" text-anchor="middle" letter-spacing="1.1" class="t">270pF</text>
<text x="853.5" y="805.1" font-size="13.9" text-anchor="middle" letter-spacing="1.1" class="t">R10</text>
<text x="853.5" y="821.3" font-size="13.9" text-anchor="middle" letter-spacing="1.1" class="t">750kΩ</text>
<text x="932.5" y="907.6" font-size="13.9" text-anchor="middle" letter-spacing="1.1" class="t">T5</text>
<text x="931.6" y="921.1" font-size="13.9" text-anchor="middle" letter-spacing="1.6" class="t">BC548</text>
<text x="973.9" y="612.9" font-size="13.9" text-anchor="middle" letter-spacing="2.3" class="t">2560</text>
<path d="M1012.8 397 L1062.4 397" stroke-width="2.3"/>
<path d="M1012.8 474.3 L1062.4 474.3" stroke-width="2.3"/>
<path d="M1012.8 546.5 L1062.4 546.5" stroke-width="2.3"/>
<path d="M1012.8 620 L1062.4 620" stroke-width="2.3"/>
<circle cx="1049.6" cy="620" r="3.9" class="k"/>
<path d="M1106.7 397 L1136.4 397" stroke-width="2.3"/>
<path d="M1085.2 419 L1085.2 456.5" stroke-width="2.3"/>
<rect x="1063.9" y="375.7" width="41.3" height="41.8" class="o" stroke-width="3.4"/>
<path d="M1179.7 397 L1209.4 397" stroke-width="2.3"/>
<path d="M1159.4 419 L1159.4 456.5" stroke-width="2.3"/>
<rect x="1137.9" y="375.7" width="40.3" height="41.8" class="o" stroke-width="3.4"/>
<path d="M1233.4 419 L1233.4 456.5" stroke-width="2.3"/>
<rect x="1210.9" y="375.7" width="41.3" height="41.8" class="o" stroke-width="3.4"/>
<path d="M1106.7 474.3 L1136.4 474.3" stroke-width="2.3"/>
<path d="M1085.2 495.8 L1085.2 523.7" stroke-width="2.3"/>
<rect x="1063.9" y="458" width="41.3" height="36.3" class="o" stroke-width="3.4"/>
<path d="M1179.7 474.3 L1209.4 474.3" stroke-width="2.3"/>
<path d="M1159.4 495.8 L1159.4 523.7" stroke-width="2.3"/>
<rect x="1137.9" y="458" width="40.3" height="36.3" class="o" stroke-width="3.4"/>
<path d="M1233.4 495.8 L1233.4 523.7" stroke-width="2.3"/>
<rect x="1210.9" y="458" width="41.3" height="36.3" class="o" stroke-width="3.4"/>
<path d="M1106.7 546.5 L1136.4 546.5" stroke-width="2.3"/>
<path d="M1085.2 569.3 L1085.2 598.5" stroke-width="2.3"/>
<rect x="1063.9" y="525.2" width="41.3" height="42.6" class="o" stroke-width="3.4"/>
<path d="M1179.7 546.5 L1209.4 546.5" stroke-width="2.3"/>
<path d="M1159.4 569.3 L1159.4 598.5" stroke-width="2.3"/>
<rect x="1137.9" y="525.2" width="40.3" height="42.6" class="o" stroke-width="3.4"/>
<path d="M1233.4 569.3 L1233.4 598.5" stroke-width="2.3"/>
<rect x="1210.9" y="525.2" width="41.3" height="42.6" class="o" stroke-width="3.4"/>
<path d="M1106.7 620 L1136.4 620" stroke-width="2.3"/>
<rect x="1063.9" y="600" width="41.3" height="39.5" class="o" stroke-width="3.4"/>
<path d="M1179.7 620 L1209.4 620" stroke-width="2.3"/>
<rect x="1137.9" y="600" width="40.3" height="39.5" class="o" stroke-width="3.4"/>
<rect x="1210.9" y="600" width="41.3" height="39.5" class="o" stroke-width="3.4"/>
<text x="1084.6" y="406.4" font-size="27" text-anchor="middle" letter-spacing="0" class="d">1</text>
<text x="1158.1" y="406.4" font-size="27" text-anchor="middle" letter-spacing="0" class="d">2</text>
<text x="1231.6" y="406.4" font-size="27" text-anchor="middle" letter-spacing="0" class="d">3</text>
<text x="1084.6" y="486" font-size="27" text-anchor="middle" letter-spacing="0" class="d">4</text>
<text x="1158.1" y="486" font-size="27" text-anchor="middle" letter-spacing="0" class="d">5</text>
<text x="1231.6" y="486" font-size="27" text-anchor="middle" letter-spacing="0" class="d">6</text>
<text x="1084.6" y="556.3" font-size="27" text-anchor="middle" letter-spacing="0" class="d">7</text>
<text x="1158.1" y="556.3" font-size="27" text-anchor="middle" letter-spacing="0" class="d">8</text>
<text x="1231.6" y="556.3" font-size="27" text-anchor="middle" letter-spacing="0" class="d">9</text>
<text x="1158.1" y="629.6" font-size="27" text-anchor="middle" letter-spacing="0" class="d">0</text>
<path d="M1084.6 606.8 L1084.6 632.8" stroke-width="2.6"/>
<path d="M1073.6 619.8 L1095.6 619.8" stroke-width="2.6"/>
<path d="M1077.1 607.8 L1092.1 631.8" stroke-width="2.4"/>
<path d="M1092.1 607.8 L1077.1 631.8" stroke-width="2.4"/>
<path d="M1225.6 608.8 L1225.6 630.8" stroke-width="2.6"/>
<path d="M1237.6 608.8 L1237.6 630.8" stroke-width="2.6"/>
<path d="M1221.1 612.8 L1242.1 612.8" stroke-width="2.6"/>
<path d="M1221.1 626.2 L1242.1 626.2" stroke-width="2.6"/>
<path d="M1049.6 620 L1049.6 884.3 L886.2 884.3 L886.2 894.4" stroke-width="2.3"/>
<circle cx="871.2" cy="918.7" r="28.4" class="o" stroke-width="2.2"/>
<rect x="858.8" y="900.5" width="8.5" height="38.5" class="k"/>
<path d="M866.8 908 L886.2 894.4" stroke-width="2.3"/>
<path d="M866.8 930 L886.2 943" stroke-width="2.3"/>
<polygon points="886.2,943 872.1,940.6 878.9,930.7" class="k"/>
<path d="M779.4 918.7 L859.5 918.7" stroke-width="2.3"/>
<path d="M886.2 943 L886.2 954 L1084.8 954 L1084.8 721.3" stroke-width="2.3"/>
<circle cx="1084.8" cy="721.3" r="3.9" class="k"/>
<path d="M830.7 664.6 L857 664.6" stroke-width="2.3"/>
<rect x="858" y="658.3" width="41.8" height="14.2" rx="3.5" class="o" stroke-width="2.1"/>
<path d="M900.8 664.6 L933 664.6" stroke-width="2.3"/>
<path d="M830.7 664.6 L830.7 760.6 L863 760.6" stroke-width="2.3"/>
<rect x="864" y="754.4" width="39.8" height="14.2" rx="3.5" class="o" stroke-width="2.1"/>
<path d="M904.8 760.6 L933 760.6" stroke-width="2.3"/>
<path d="M830.7 714 L870 714" stroke-width="2.3"/>
<path d="M888 714 L933 714" stroke-width="2.3"/>
<circle cx="830.7" cy="714" r="3.9" class="k"/>
<path d="M872.4 699.5 L872.4 730.5" stroke-width="7.5" stroke-linecap="round"/>
<path d="M885.4 699.5 L885.4 730.5" stroke-width="7.5" stroke-linecap="round"/>
<path d="M855 724.2 L816.5 762.7" stroke-width="1.8"/>
<path d="M884.6 776.9 L874 803.2" stroke-width="1.8"/>
<path d="M933 791 L901.6 791 L901.6 848.6 L995.6 848.6 L995.6 814.6" stroke-width="2.3"/>
<path d="M946.2 814.6 L946.2 864" stroke-width="2.3"/>
<circle cx="946.2" cy="848.6" r="3.9" class="k"/>
<path d="M932.2 864 L961.4 864" stroke-width="8.5" stroke-linecap="round"/>
<path d="M1012.8 668.6 L1084.8 668.6 L1084.8 641" stroke-width="2.3"/>
<path d="M1012.8 695.8 L1159.4 695.8 L1159.4 641" stroke-width="2.3"/>
<path d="M1012.8 721.3 L1233.4 721.3 L1233.4 641" stroke-width="2.3"/>
<polygon points="619,509.8 619,536.8 643,523.3" class="k"/>
<path d="M644.4 508.8 L644.4 537.8" stroke-width="3.6"/>
<polygon points="619,549.2 619,576.2 643,562.7" class="k"/>
<path d="M644.4 548.2 L644.4 577.2" stroke-width="3.6"/>
<path d="M644.4 523.3 L779.4 523.3 L779.4 567" stroke-width="2.3"/>
<path d="M779.4 609 L779.4 918.7" stroke-width="2.3"/>
<rect x="771" y="568" width="16.6" height="40" rx="3.5" class="o" stroke-width="2.1"/>
<circle cx="678" cy="523.3" r="3.9" class="k"/>
<circle cx="678" cy="562.7" r="3.9" class="k"/>
<path d="M644.4 562.7 L678 562.7" stroke-width="2.3"/>
<path d="M678 523.3 L678 601.4 L610.7 601.4 L610.7 614" stroke-width="2.3"/>
<rect x="603.6" y="615" width="15.7" height="40.7" rx="3.5" class="o" stroke-width="2.1"/>
<path d="M610.7 656.7 L610.7 672.4" stroke-width="2.3"/>
<path d="M595.2 672.4 L625.5 672.4" stroke-width="8.5" stroke-linecap="round"/>
<circle cx="715.8" cy="566.5" r="6.2" class="o" stroke-width="2.2"/>
<circle cx="715.8" cy="603.8" r="6.2" class="o" stroke-width="2.2"/>
<path d="M716 597 L734 574.5" stroke-width="7" stroke-linecap="butt"/>
<path d="M715.8 560.3 L715.8 533 L752.8 533 L752.8 549.5" stroke-width="2.3"/>
<path d="M737 549.5 L767 549.5" stroke-width="8" stroke-linecap="round"/>
<path d="M715.8 610 L715.8 642" stroke-width="2.3"/>
<path d="M715.8 659.2 L715.8 683.8" stroke-width="2.3"/>
<circle cx="715.8" cy="618.3" r="3.9" class="k"/>
<path d="M701.9 645.8 L730.8 645.8" stroke-width="8.5" stroke-linecap="round"/>
<path d="M701.9 659.2 L730.8 659.2" stroke-width="8.5" stroke-linecap="round"/>
<path d="M701.9 683.8 L730.8 683.8" stroke-width="8.5" stroke-linecap="round"/>
<path d="M734.3 670.3 L750.8 696.4" stroke-width="1.8"/>
<rect x="520.8" y="594.3" width="16.2" height="40.3" rx="3.5" class="o" stroke-width="2.1"/>
<path d="M529 635.6 L529 732 L649.5 732" stroke-width="2.3"/>
<circle cx="586" cy="732" r="3.9" class="k"/>
<path d="M586 732 L586 752" stroke-width="2.3"/>
<rect x="577.5" y="753" width="15.7" height="40" rx="3.5" class="o" stroke-width="2.1"/>
<path d="M586 794 L586 822.4" stroke-width="2.3"/>
<circle cx="586" cy="806.6" r="3.9" class="k"/>
<path d="M571.2 822.4 L600.1 822.4" stroke-width="8.5" stroke-linecap="round"/>
<circle cx="662" cy="732" r="29" class="o" stroke-width="2.2"/>
<rect x="648.8" y="712.4" width="8.5" height="39.6" class="k"/>
<path d="M656.8 720 L676.8 708" stroke-width="2.3"/>
<path d="M656.8 744 L676 756" stroke-width="2.3"/>
<polygon points="676,756 661.8,754 668.3,743.9" class="k"/>
<path d="M676.8 708 L677.3 618.5" stroke-width="2.3"/>
<path d="M676 756 L676 806.6 L586 806.6" stroke-width="2.3"/>
<text x="660.5" y="515.9" font-size="13.9" text-anchor="middle" letter-spacing="1.1" class="t">D11</text>
<text x="661.3" y="555.9" font-size="13.9" text-anchor="middle" letter-spacing="1.1" class="t">D12</text>
<text x="563.8" y="592.6" font-size="13.9" text-anchor="middle" letter-spacing="1.1" class="t">R11</text>
<text x="563.8" y="609.1" font-size="13.9" text-anchor="middle" letter-spacing="1.1" class="t">10kΩ</text>
<text x="643.5" y="630.6" font-size="13.9" text-anchor="middle" letter-spacing="1.1" class="t">R4</text>
<text x="643.5" y="647.1" font-size="13.9" text-anchor="middle" letter-spacing="1.1" class="t">10kΩ</text>
<text x="739.9" y="601.5" font-size="13.9" text-anchor="middle" letter-spacing="1.1" class="t">S1</text>
<text x="743.2" y="709.1" font-size="13.9" text-anchor="middle" letter-spacing="1.1" class="t">C8</text>
<text x="743.5" y="724.1" font-size="13.9" text-anchor="middle" letter-spacing="1.1" class="t">10nF</text>
<text x="712" y="758.1" font-size="13.9" text-anchor="middle" letter-spacing="1.1" class="t">T4</text>
<text x="712.3" y="771.7" font-size="13.9" text-anchor="middle" letter-spacing="1.6" class="t">BC548</text>
<text x="624.5" y="779.1" font-size="13.9" text-anchor="middle" letter-spacing="1.1" class="t">R12</text>
<text x="624.5" y="794.5" font-size="13.9" text-anchor="middle" letter-spacing="1.1" class="t">100kΩ</text>
<path d="M87.4 548.6 L143.8 548.6 A28.2 28.2 0 0 1 143.8 605 L87.4 605 Z" class="o" stroke-width="2.8"/>
<circle cx="179.3" cy="576.8" r="5.6" class="o" stroke-width="2.4"/>
<path d="M98.4 594.1 L121.4 594.1" stroke-width="2.3"/>
<path d="M106.4 594.1 L125.9 558.6" stroke-width="2.3"/>
<path d="M121.4 594.1 L140.9 558.6" stroke-width="2.3"/>
<path d="M125.9 558.6 L148.4 558.6" stroke-width="2.3"/>
<path d="M237.6 566.6 L293.2 566.6 A28.8 28.8 0 0 1 293.2 624.2 L237.6 624.2 Z" class="o" stroke-width="2.8"/>
<circle cx="328.3" cy="595.4" r="6" class="o" stroke-width="2.4"/>
<path d="M248.6 612.1 L271.6 612.1" stroke-width="2.3"/>
<path d="M256.6 612.1 L276.1 576.6" stroke-width="2.3"/>
<path d="M271.6 612.1 L291.1 576.6" stroke-width="2.3"/>
<path d="M276.1 576.6 L298.6 576.6" stroke-width="2.3"/>
<path d="M49.4 557 L87.4 557" stroke-width="2.3"/>
<path d="M49.4 557 L49.4 668" stroke-width="2.3"/>
<path d="M49.4 596.3 L87.4 596.3" stroke-width="2.3"/>
<circle cx="49.4" cy="596.3" r="3.9" class="k"/>
<circle cx="49.4" cy="652.7" r="3.9" class="k"/>
<path d="M49.4 652.7 L104 652.7" stroke-width="2.3"/>
<rect x="105" y="645" width="40.4" height="15" rx="3.5" class="o" stroke-width="2.1"/>
<path d="M146.4 652.7 L202.6 652.7 L202.6 576" stroke-width="2.3"/>
<circle cx="202.6" cy="576" r="3.9" class="k"/>
<path d="M185 576 L237.6 576" stroke-width="2.3"/>
<rect x="31.4" y="668.7" width="35.5" height="6" rx="3" class="o" stroke-width="2.1"/>
<path d="M34.9 684.4 L63.4 684.4" stroke-width="9" stroke-linecap="round"/>
<path d="M49.4 684 L49.4 709" stroke-width="2.3"/>
<path d="M34.6 709 L63.7 709" stroke-width="8.5" stroke-linecap="round"/>
<path d="M221.6 614 L237.6 614" stroke-width="2.3"/>
<path d="M221.6 614 L221.6 692" stroke-width="2.3"/>
<path d="M221.6 710 L221.6 740" stroke-width="2.3"/>
<circle cx="221.6" cy="666.7" r="3.9" class="k"/>
<path d="M221.6 666.7 L280.6 666.7" stroke-width="2.3"/>
<rect x="281.6" y="661" width="40.4" height="13.3" rx="3.5" class="o" stroke-width="2.1"/>
<path d="M323 667 L378.5 667 L378.5 704" stroke-width="2.3"/>
<circle cx="349" cy="667" r="3.9" class="k"/>
<path d="M334.3 595.4 L349 595.4 L349 667" stroke-width="2.3"/>
<rect x="370.7" y="705" width="15.3" height="41.7" rx="3.5" class="o" stroke-width="2.1"/>
<path d="M378.5 747.7 L378.5 770.5 L427.5 770.5" stroke-width="2.3"/>
<path d="M206.8 696.3 L236.3 696.3" stroke-width="8.5" stroke-linecap="round"/>
<path d="M206.8 710.2 L236.3 710.2" stroke-width="8.5" stroke-linecap="round"/>
<path d="M206.8 740 L236.3 740" stroke-width="8.5" stroke-linecap="round"/>
<circle cx="438.7" cy="769.5" r="28.9" class="o" stroke-width="2.2"/>
<rect x="426.8" y="749.8" width="8.5" height="39.2" class="k"/>
<path d="M434.8 758 L453.9 746" stroke-width="2.3"/>
<path d="M434.8 781 L453.9 792.4" stroke-width="2.3"/>
<polygon points="453.9,792.4 439.7,790.7 445.9,780.5" class="k"/>
<path d="M453.9 746 L453.9 695.5" stroke-width="2.3"/>
<circle cx="453.9" cy="689" r="6.3" class="o" stroke-width="2.2"/>
<path d="M453.9 792.4 L453.9 839.5 L505 839.5" stroke-width="2.3"/>
<polygon points="513,839.5 500,835.5 500,843.5" class="k"/>
<text x="75.2" y="550.7" font-size="13.9" text-anchor="middle" letter-spacing="1.1" class="t">8</text>
<text x="79" y="611.1" font-size="13.9" text-anchor="middle" letter-spacing="1.1" class="t">9</text>
<text x="185.6" y="563.1" font-size="13.9" text-anchor="middle" letter-spacing="1.1" class="t">10</text>
<text x="223.6" y="570.1" font-size="13.9" text-anchor="middle" letter-spacing="1.1" class="t">12</text>
<text x="224.6" y="605.9" font-size="13.9" text-anchor="middle" letter-spacing="1.1" class="t">13</text>
<text x="123.3" y="638.1" font-size="13.9" text-anchor="middle" letter-spacing="1.1" class="t">1MΩ</text>
<text x="96.5" y="691.1" font-size="13.9" text-anchor="middle" letter-spacing="1.1" class="t">4,7µF</text>
<text x="270.4" y="712.8" font-size="13.9" text-anchor="middle" letter-spacing="1.1" class="t">100nF</text>
<text x="301.9" y="652.1" font-size="13.9" text-anchor="middle" letter-spacing="1.1" class="t">100kΩ</text>
<text x="341.1" y="586.1" font-size="13.9" text-anchor="middle" letter-spacing="1.1" class="t">11</text>
<text x="451.4" y="676.4" font-size="13.9" text-anchor="middle" letter-spacing="1.1" class="t">(+)</text>
<text x="485.1" y="744.1" font-size="13.9" text-anchor="middle" letter-spacing="1.6" class="t">BC338</text>
<text x="343.6" y="750.1" font-size="13.9" text-anchor="middle" letter-spacing="1.1" class="t">10kΩ</text>
<text x="496.9" y="830.1" font-size="13.9" text-anchor="middle" letter-spacing="1.1" class="t">SR</text>
<text x="219.2" y="529.1" font-size="13.9" text-anchor="middle" letter-spacing="2.8" class="t">4093</text>
</svg></body></html>
